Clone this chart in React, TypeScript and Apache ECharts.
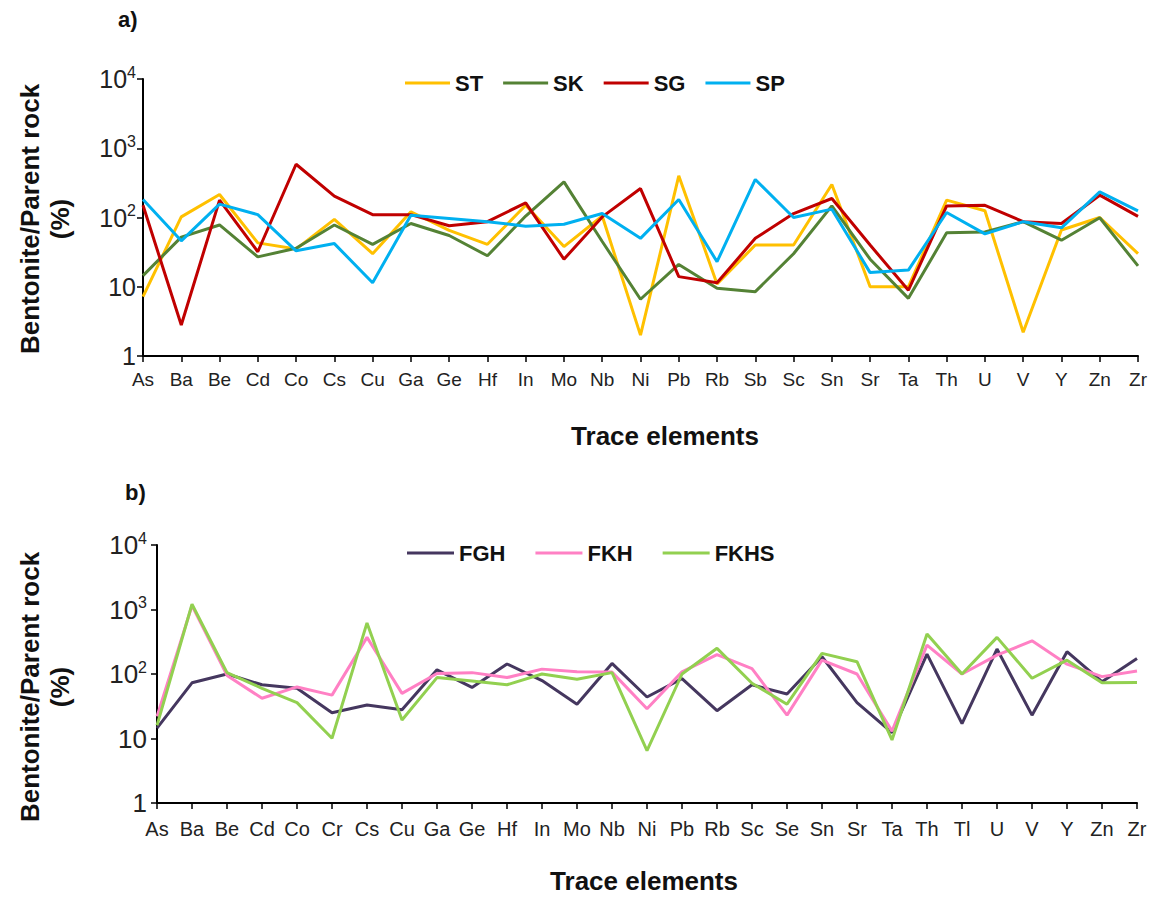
import React, { useEffect, useRef } from "react";
import * as echarts from "echarts";

const elementsA = ["As","Ba","Be","Cd","Co","Cs","Cu","Ga","Ge","Hf","In","Mo","Nb","Ni","Pb","Rb","Sb","Sc","Sn","Sr","Ta","Th","U","V","Y","Zn","Zr"];
const ST = [7.2,102,215,43,35,94,30,121,65,41,150,38,105,2,400,11,40,40,300,10,10,178,125,2.2,66,100,30];
const SK = [14.5,52,78,27,36,78,41,82,55,28,105,327,45,6.6,21,9.5,8.5,30,147,25,6.8,60,62,87,47,99,20];
const SG = [150,2.8,178,32,587,203,110,110,76,87,163,25,102,262,14,11.4,50,114,188,40,8.9,147,150,87,82,210,104];
const SP = [182,46,156,110,33,42,11.4,108,97,87,75,80,114,50,182,23,354,100,132,16,17.4,118,58,87,71,235,125];

const elementsB = ["As","Ba","Be","Cd","Co","Cr","Cs","Cu","Ga","Ge","Hf","In","Mo","Nb","Ni","Pb","Rb","Sc","Se","Sn","Sr","Ta","Th","Tl","U","V","Y","Zn","Zr"];
const FGH = [14.5,73,100,68,60,25,33,28,116,62,143,79,34,146,44,85,27,68,49,185,36,12.3,203,17,244,23,222,76,174];
const FKH = [22,1150,95,42,63,47,370,50,102,105,88,119,108,107,29,108,200,121,23,164,100,13,280,100,196,327,142,91,111];
const FKHS = [16,1206,105,60,36,10.1,620,19.4,88,78,68,100,83,105,6.5,100,250,72,34,209,155,9.5,417,100,370,86,164,73,74];

const colorsA = ["#FFC000", "#548235", "#C00000", "#00B0F0"];
const colorsB = ["#45375F", "#FF80C4", "#92D050"];

const yFormatter = (v: number) => {
  if (v === 1) return "1";
  if (v === 10) return "10";
  const e = Math.round(Math.log10(v));
  return "10{s|" + e + "}";
};

export default function App() {
  const ref = useRef<HTMLDivElement>(null);
  useEffect(() => {
    if (!ref.current) return;
    const chart = echarts.init(ref.current, null, { renderer: "svg" });
    const font = "'Liberation Sans', Arial, sans-serif";
    const yAxisBase = (fs: number, margin: number) => ({
      type: "log" as const,
      logBase: 10,
      min: 1,
      max: 10000,
      splitLine: { show: false },
      axisLine: { show: true, lineStyle: { color: "#000", width: 2 } },
      axisTick: { show: true, length: 6, lineStyle: { color: "#000", width: 1.5 } },
      minorTick: { show: false },
      axisLabel: {
        formatter: yFormatter,
        margin,
        fontSize: fs,
        color: "#222",
        fontFamily: font,
        rich: {
          s: { fontSize: 16, fontFamily: font, color: "#222", padding: [0, 0, 14, 0] },
        },
      },
    });
    const xAxisBase = (data: string[], fs: number, margin: number, gridIndex: number) => ({
      type: "category" as const,
      gridIndex,
      data,
      boundaryGap: false,
      axisLine: { show: true, lineStyle: { color: "#000", width: 2 } },
      axisTick: { show: true, length: 6, inside: false, lineStyle: { color: "#000", width: 1.5 } },
      axisLabel: { fontSize: fs, margin, color: "#222", fontFamily: font, interval: 0 },
      splitLine: { show: false },
    });
    const mk = (name: string, data: number[], color: string, idx: number) => ({
      name,
      type: "line" as const,
      xAxisIndex: idx,
      yAxisIndex: idx,
      data,
      symbol: "none",
      showSymbol: false,
      lineStyle: { color, width: 3 },
      itemStyle: { color },
    });
    const textStyleBold = (fs: number) => ({ fontSize: fs, fontWeight: "bold" as const, fontFamily: font, fill: "#111" });
    chart.setOption({
      animation: false,
      backgroundColor: "#fff",
      grid: [
        { left: 143, top: 79, width: 995, height: 277 },
        { left: 157, top: 545, width: 980, height: 258 },
      ],
      xAxis: [xAxisBase(elementsA, 19, 14, 0), xAxisBase(elementsB, 20, 16, 1)],
      yAxis: [
        { ...yAxisBase(25, 7), gridIndex: 0 },
        { ...yAxisBase(26, 10), gridIndex: 1 },
      ],
      legend: [
        {
          data: ["ST", "SK", "SG", "SP"],
          left: 400,
          top: 67,
          icon: "rect",
          itemWidth: 45,
          itemHeight: 3,
          itemGap: 20,
          textStyle: { fontSize: 22, fontWeight: "bold", fontFamily: font, color: "#111" },
        },
        {
          data: ["FGH", "FKH", "FKHS"],
          left: 402,
          top: 537,
          icon: "rect",
          itemWidth: 47,
          itemHeight: 3,
          itemGap: 30,
          textStyle: { fontSize: 22, fontWeight: "bold", fontFamily: font, color: "#111" },
        },
      ],
      series: [
        mk("ST", ST, colorsA[0], 0),
        mk("SK", SK, colorsA[1], 0),
        mk("SG", SG, colorsA[2], 0),
        mk("SP", SP, colorsA[3], 0),
        mk("FGH", FGH, colorsB[0], 1),
        mk("FKH", FKH, colorsB[1], 1),
        mk("FKHS", FKHS, colorsB[2], 1),
      ],
      graphic: [
        { type: "text", left: 118, top: 8, style: { text: "a)", ...textStyleBold(22) } },
        { type: "text", left: 125, top: 481, style: { text: "b)", ...textStyleBold(22) } },
        {
          type: "text", x: 665, y: 436,
          style: { text: "Trace elements", ...textStyleBold(26), textAlign: "center", textVerticalAlign: "middle" },
        },
        {
          type: "text", x: 644, y: 881,
          style: { text: "Trace elements", ...textStyleBold(26), textAlign: "center", textVerticalAlign: "middle" },
        },
        {
          type: "text", x: 45, y: 219, rotation: Math.PI / 2,
          style: { text: "Bentonite/Parent rock\n(%)", ...textStyleBold(26), lineHeight: 30, textAlign: "center", textVerticalAlign: "middle" },
        },
        {
          type: "text", x: 45, y: 687, rotation: Math.PI / 2,
          style: { text: "Bentonite/Parent rock\n(%)", ...textStyleBold(26), lineHeight: 30, textAlign: "center", textVerticalAlign: "middle" },
        },
      ],
    });
    return () => chart.dispose();
  }, []);
  return <div ref={ref} style={{ position: "absolute", left: 0, top: 0, width: 1157, height: 898 }} />;
}
